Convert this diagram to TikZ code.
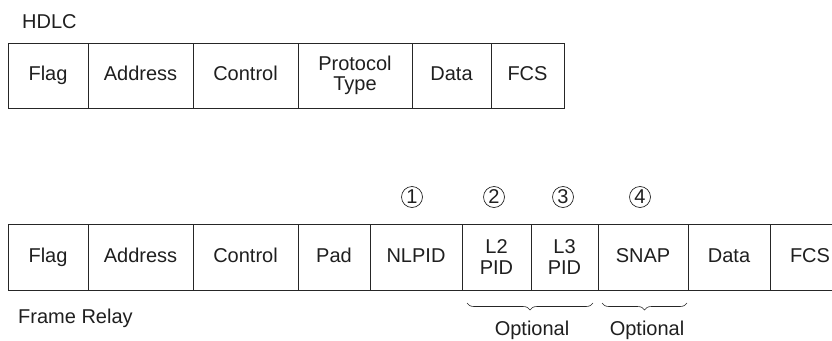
\documentclass[tikz,border=0pt]{standalone}
\usepackage{fontspec}
\setmainfont{Liberation Sans}
\usetikzlibrary{decorations.pathreplacing}

\begin{document}
\begin{tikzpicture}[x=1pt,y=-1pt,
    cell/.style={draw=black!85,line width=0.8pt,inner sep=0pt,align=center,text=black!88},
    oneline/.style={text height=14.5,text depth=4.3},
    hcell/.style={cell,minimum height=65},
    fcell/.style={cell,minimum height=66},
    mark num/.style={draw=black!85,line width=0.7pt,circle,minimum size=21,inner sep=0pt,text=black!88},
    label/.style={text=black!88,inner sep=0pt},
    optbrace/.style={decorate,decoration={brace,mirror,amplitude=7},line width=0.6pt,draw=black!85},
    font=\fontsize{20}{20.5}\selectfont]

    \useasboundingbox (0,0) rectangle (832,340);
    \clip (0,0) rectangle (832,340);

    \node[label,anchor=base west] (hdlc) at (22,28) {HDLC};

    \node[hcell,oneline,minimum width=80] (hflag) at (48,75.5) {Flag};
    \node[hcell,oneline,minimum width=105] (haddr) at (140.5,75.5) {Address};
    \node[hcell,oneline,minimum width=105] (hctrl) at (245.5,75.5) {Control};
    \node[hcell,minimum width=114] (hproto) at (355,75.5) {Protocol\\Type};
    \node[hcell,oneline,minimum width=79] (hdata) at (451.5,75.5) {Data};
    \node[hcell,oneline,minimum width=73] (hfcs) at (527.5,75.5) {FCS};

    \node[fcell,oneline,minimum width=80] (fflag) at (48,257) {Flag};
    \node[fcell,oneline,minimum width=105] (faddr) at (140.5,257) {Address};
    \node[fcell,oneline,minimum width=105] (fctrl) at (245.5,257) {Control};
    \node[fcell,oneline,minimum width=72] (fpad) at (334,257) {Pad};
    \node[fcell,oneline,minimum width=92] (fnlpid) at (416,257) {NLPID};
    \node[fcell,minimum width=69] (fltwo) at (496.5,257) {L2\\PID};
    \node[fcell,minimum width=67] (flthree) at (564.5,257) {L3\\PID};
    \node[fcell,oneline,minimum width=90] (fsnap) at (643,257) {SNAP};
    \node[fcell,oneline,minimum width=82] (fdata) at (729,257) {Data};
    \node[fcell,oneline,minimum width=80] (ffcs) at (810,257) {FCS};

    \node[mark num] (one) at (412,197) {1};
    \node[mark num] (two) at (494,197) {2};
    \node[mark num] (three) at (563,197) {3};
    \node[mark num] (four) at (640,197) {4};

    \node[label,anchor=base west] (frelay) at (18,323) {Frame Relay};

    \coordinate (bra) at (467,303);
    \coordinate (brb) at (593,303);
    \coordinate (brc) at (602,303);
    \coordinate (brd) at (687,303);
    \draw[optbrace] (bra) -- (brb);
    \draw[optbrace] (brc) -- (brd);

    \node[label,anchor=base] (optone) at (532,335) {Optional};
    \node[label,anchor=base] (opttwo) at (647,335) {Optional};

  \end{tikzpicture}
\end{document}
